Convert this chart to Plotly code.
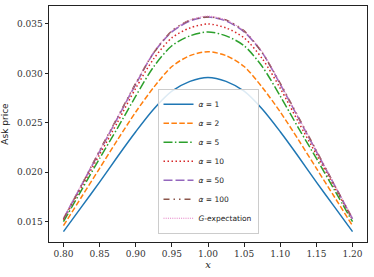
import plotly.graph_objects as go

x_vals = [0.80, 0.825, 0.85, 0.875, 0.90, 0.925, 0.95, 0.975, 1.00,
          1.025, 1.05, 1.075, 1.10, 1.125, 1.15, 1.175, 1.20]

ask_a1 = [0.0140, 0.0165, 0.0190, 0.0216, 0.0241, 0.0264, 0.0282, 0.0292, 0.0296,
          0.0292, 0.0282, 0.0264, 0.0241, 0.0216, 0.0190, 0.0165, 0.0140]
ask_a2 = [0.0146, 0.0175, 0.0204, 0.0233, 0.0261, 0.0286, 0.0307, 0.0318, 0.0322,
          0.0318, 0.0307, 0.0286, 0.0261, 0.0233, 0.0204, 0.0175, 0.0146]
ask_a5 = [0.0150, 0.0182, 0.0214, 0.0245, 0.0277, 0.0307, 0.0328, 0.0338, 0.0342,
          0.0338, 0.0328, 0.0307, 0.0277, 0.0245, 0.0214, 0.0182, 0.0150]
ask_a10 = [0.0152, 0.0185, 0.0218, 0.0251, 0.0285, 0.0315, 0.0336, 0.0346, 0.0350,
           0.0346, 0.0336, 0.0315, 0.0285, 0.0251, 0.0218, 0.0185, 0.0152]
ask_a50 = [0.0153, 0.0187, 0.0221, 0.0255, 0.0289, 0.0321, 0.0342, 0.0353, 0.0357,
           0.0353, 0.0342, 0.0321, 0.0289, 0.0255, 0.0221, 0.0187, 0.0153]
ask_a100 = [0.0153, 0.0187, 0.0222, 0.0256, 0.0290, 0.0321, 0.0343, 0.0354, 0.0357,
            0.0354, 0.0343, 0.0321, 0.0290, 0.0256, 0.0222, 0.0187, 0.0153]
ask_g = [0.0154, 0.0188, 0.0222, 0.0256, 0.0290, 0.0322, 0.0343, 0.0354, 0.0358,
         0.0354, 0.0343, 0.0322, 0.0290, 0.0256, 0.0222, 0.0188, 0.0154]

labels = ["<i>α</i> = 1", "<i>α</i> = 2", "<i>α</i> = 5", "<i>α</i> = 10",
          "<i>α</i> = 50", "<i>α</i> = 100", "<i>G</i>-expectation"]
series = [ask_a1, ask_a2, ask_a5, ask_a10, ask_a50, ask_a100, ask_g]
colors = ["#1f77b4", "#ff7f0e", "#2ca02c", "#d62728", "#9467bd", "#8c564b", "#e377c2"]
dashes = ["solid", "5.5px,2.4px", "9px,2.4px,1.5px,2.4px", "1.5px,2.5px",
          "9px,3px", "6px,4px,1.5px,4px,1.5px,4px", "1px,1.2px"]
widths = [1.5, 1.5, 1.5, 1.5, 1.5, 1.5, 1.0]

x_ticks = [0.80, 0.85, 0.90, 0.95, 1.00, 1.05, 1.10, 1.15, 1.20]
y_ticks = [0.015, 0.020, 0.025, 0.030, 0.035]

SERIF = "DejaVu Serif"
SANS = "DejaVu Sans"

fig = go.Figure()
for lab, ys, c, d, w in zip(labels, series, colors, dashes, widths):
    fig.add_trace(go.Scatter(x=x_vals, y=ys, mode="lines", name=lab,
                             line=dict(color=c, dash=d, width=w, shape="spline", smoothing=0.8)))

axis_common = dict(showline=True, linecolor="#222", linewidth=1, mirror=True,
                   ticks="outside", ticklen=3.5, tickwidth=0.8, tickcolor="#222",
                   showgrid=False, zeroline=False, automargin=False,
                   tickfont=dict(family=SERIF, size=9, color="#333"))

fig.update_layout(
    width=374, height=277,
    margin=dict(l=49, r=7, t=6, b=35, autoexpand=False),
    paper_bgcolor="white", plot_bgcolor="white",
    showlegend=True,
    legend=dict(x=0.5, y=0.035, xanchor="center", yanchor="bottom",
                bgcolor="rgba(255,255,255,0.85)", bordercolor="#cccccc", borderwidth=1,
                font=dict(family=SANS, size=7.5, color="#222"),
                itemwidth=30, tracegroupgap=0),
    xaxis=dict(range=[0.78, 1.22], tickvals=x_ticks,
               ticktext=[f"{v:.2f}" for v in x_ticks],
               title=dict(text="<i>x</i>", font=dict(family=SERIF, size=10, color="#222"),
                          standoff=2),
               **axis_common),
    yaxis=dict(range=[0.01295, 0.03682], tickvals=y_ticks,
               ticktext=[f"{v:.3f}" for v in y_ticks],
               title=dict(text="Ask price", font=dict(family=SANS, size=9, color="#222"),
                          standoff=7),
               **axis_common),
)

fig.write_html("out.html", config={"displayModeBar": False},
               post_script="document.body.style.margin='0';document.body.style.padding='0';")
